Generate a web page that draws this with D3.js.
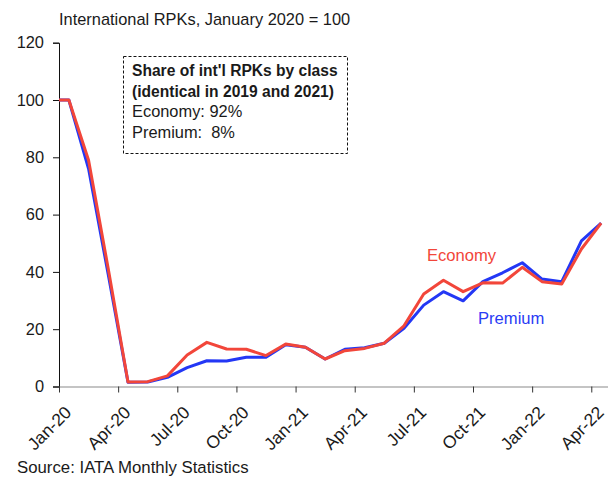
<!DOCTYPE html>
<html>
<head>
<meta charset="utf-8">
<script src="https://cdn.jsdelivr.net/npm/d3@7"></script>
<style>
  body { margin: 0; background: #fff; }
  svg { display: block; font-family: "Liberation Sans", Arial, sans-serif; }
  text { fill: #1a1a1a; }
</style>
</head>
<body>
<svg width="608" height="479"></svg>
<script>
// monthly index, Jan 2020 = 100 (Dec-19 only shows as the stub at the left edge)
var months = ["Dec-19", "Jan-20", "Feb-20", "Mar-20", "Apr-20", "May-20", "Jun-20", "Jul-20", "Aug-20", "Sep-20",
  "Oct-20", "Nov-20", "Dec-20", "Jan-21", "Feb-21", "Mar-21", "Apr-21", "May-21", "Jun-21", "Jul-21",
  "Aug-21", "Sep-21", "Oct-21", "Nov-21", "Dec-21", "Jan-22", "Feb-22", "Mar-22", "Apr-22"];
var economy = [100, 100, 79, 41, 1.6, 1.7, 3.7, 11, 15.4, 13.1, 13, 10.8, 14.8, 13.7, 9.6, 12.5, 13.3,
  15.1, 21.2, 32.3, 37.1, 33.1, 36.2, 36.1, 41.6, 36.6, 35.8, 48, 57];
var premium = [100, 100, 76, 39, 1.5, 1.6, 3.2, 6.6, 9.0, 8.9, 10.2, 10.2, 14.6, 13.7, 9.6, 13.0, 13.5,
  15.1, 20.3, 28.4, 33.1, 29.9, 36.6, 39.7, 43.2, 37.5, 36.6, 50.8, 57];
var tickLabels = ["Jan-20", "Apr-20", "Jul-20", "Oct-20", "Jan-21", "Apr-21", "Jul-21", "Oct-21", "Jan-22", "Apr-22"];
var yTicks = [0, 20, 40, 60, 80, 100, 120];

var svg = d3.select("svg"),
  margin = {top: 42.7, left: 59, bottom: 92.5},
  plotW = 552,
  plotH = 479 - margin.top - margin.bottom,
  fs = "16.4px";

// months sit in the middle of their slot, tick at slot start
var x = d3.scaleLinear().domain([0, 28]).range([margin.left, margin.left + plotW]);
var y = d3.scaleLinear().domain([0, 120]).range([margin.top + plotH, margin.top]);
var pos = function(i) { return x(i - 0.5); };   // index into months (Dec-19 = 0)

svg.append("clipPath").attr("id", "plot")
  .append("rect")
  .attr("x", margin.left).attr("y", 0)
  .attr("width", plotW).attr("height", 479);

svg.append("text")
  .attr("x", 59).attr("y", 25)
  .style("font-size", fs)
  .text("International RPKs, January 2020 = 100");

// y axis
var yAxis = svg.append("g")
  .attr("transform", "translate(" + margin.left + ",0)")
  .call(d3.axisLeft(y).tickValues(yTicks).tickSize(6).tickPadding(9));
yAxis.select(".domain").attr("stroke", "#111").attr("stroke-width", 1);
yAxis.selectAll(".tick line").attr("stroke", "#111");
yAxis.selectAll("text").style("font-size", fs).attr("fill", "#1a1a1a");

// x axis
var xAxis = svg.append("g")
  .attr("transform", "translate(0," + y(0) + ")")
  .call(d3.axisBottom(x).tickValues(d3.range(0, 28, 3))
    .tickFormat(function(d, i) { return tickLabels[i]; })
    .tickSize(6).tickSizeOuter(0));
xAxis.select(".domain").attr("stroke", "#8a8a8a").attr("stroke-width", 1.2);
xAxis.selectAll(".tick line").attr("stroke", "#333");
xAxis.selectAll("text")
  .style("font-size", "17.5px")
  .attr("fill", "#1a1a1a")
  .attr("text-anchor", "end")
  .attr("dy", null)
  .attr("y", 0)
  .attr("transform", "translate(13,27) rotate(-45)");

var line = d3.line()
  .x(function(d, i) { return pos(i); })
  .y(function(d) { return y(d); });

var series = [
  {name: "Premium", values: premium, color: "#2337f5"},
  {name: "Economy", values: economy, color: "#f2463a"}
];

svg.append("g").attr("clip-path", "url(#plot)")
  .selectAll("path")
  .data(series)
  .enter().append("path")
  .attr("d", function(d) { return line(d.values); })
  .attr("fill", "none")
  .attr("stroke", function(d) { return d.color; })
  .attr("stroke-width", 3)
  .attr("stroke-linejoin", "round");

// series labels
svg.append("text")
  .attr("x", 427).attr("y", 261)
  .style("font-size", "16.6px").style("fill", "#f2463a")
  .text("Economy");
svg.append("text")
  .attr("x", 478).attr("y", 324)
  .style("font-size", "16.6px").style("fill", "#2a3cf5")
  .text("Premium");

// note box
svg.append("rect")
  .attr("x", 123.5).attr("y", 56.5)
  .attr("width", 224).attr("height", 97)
  .attr("fill", "none").attr("stroke", "#111")
  .attr("stroke-dasharray", "3,2");

var note = [
  {t: "Share of int'l RPKs by class", bold: true},
  {t: "(identical in 2019 and 2021)", bold: true},
  {t: "Economy: 92%", bold: false},
  {t: "Premium:\u00a0 8%", bold: false}
];
svg.selectAll(".note")
  .data(note)
  .enter().append("text")
  .attr("class", "note")
  .attr("x", 132)
  .attr("y", function(d, i) { return 76 + i * 20.5; })
  .style("font-size", function(d) { return d.bold ? "15.6px" : fs; })
  .style("font-weight", function(d) { return d.bold ? "bold" : "normal"; })
  .text(function(d) { return d.t; });

svg.append("text")
  .attr("x", 17).attr("y", 473)
  .style("font-size", "16.8px")
  .text("Source: IATA Monthly Statistics");
</script>
</body>
</html>
